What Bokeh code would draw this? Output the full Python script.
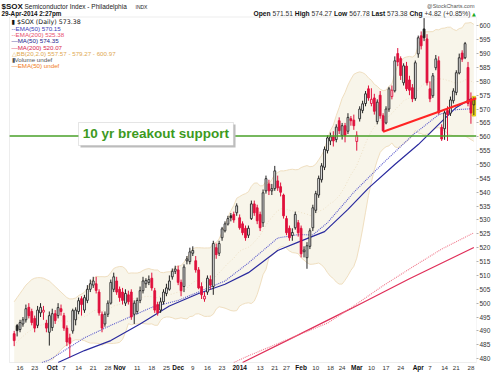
import pandas as pd
from bokeh.plotting import figure
from bokeh.models import ColumnDataSource, Label, BoxAnnotation, FixedTicker, Range1d
from bokeh.embed import file_html
from bokeh.resources import INLINE
from bokeh.core.properties import value

# ---------------- data ----------------
HOLIDAYS = ["2013-11-28", "2013-12-25", "2014-01-01", "2014-01-20", "2014-02-17", "2014-04-18"]
dates = pd.bdate_range("2013-09-12", "2014-04-29", freq="C", holidays=HOLIDAYS)

PRIOR_CLOSE = 488.5

open_ = [489.0, 491.9, 490.5, 492.5, 494.0, 498.5, 497.0, 494.5, 492.0, 496.5,
         497.0, 492.8, 489.5, 491.2, 496.2, 495.5, 498.0, 495.5, 491.0, 487.5,
         490.0, 494.0, 497.0, 501.6, 497.5, 501.0, 505.0, 506.5, 507.0, 504.0,
         496.0, 492.5, 496.0, 500.0, 505.0, 508.0, 505.0, 504.0, 500.0, 503.0,
         504.0, 496.0, 497.0, 501.0, 504.5, 507.0, 507.5, 509.0, 504.5, 499.5,
         497.5, 500.5, 503.5, 505.0, 509.5, 511.5, 512.0, 507.5, 506.0, 515.5,
         515.0, 518.0, 515.3, 512.0, 506.0, 501.5, 504.0, 508.5, 506.0, 520.0,
         518.0, 523.6, 526.1, 528.5, 531.5, 532.0, 532.6, 530.8, 528.6, 527.0,
         524.5, 530.5, 535.8, 534.4, 532.0, 529.0, 540.5, 543.0, 540.5, 541.3,
         544.1, 542.0, 539.0, 530.5, 527.0, 524.4, 527.2, 529.0, 527.0, 518.8,
         516.4, 520.5, 527.2, 533.5, 539.0, 544.5, 549.0, 555.0, 558.5, 560.0,
         559.0, 565.8, 560.5, 564.0, 562.0, 566.5, 566.0, 558.3, 566.5, 569.5,
         572.0, 577.3, 572.0, 574.0, 565.5, 575.0, 567.6, 565.0, 570.0, 574.5,
         576.6, 590.0, 588.2, 579.5, 585.5, 580.5, 577.7, 573.8, 589.9, 596.4,
         598.9, 595.3, 577.3, 574.8, 584.9, 587.4, 563.4, 562.9, 569.5, 568.5,
         573.0, 576.0, 583.0, 590.2, 588.5, 585.0, 573.5, 571.51]
high = [490.0, 492.5, 494.0, 495.0, 499.5, 500.0, 498.0, 495.5, 499.0, 500.0,
        499.0, 494.0, 497.0, 498.0, 497.5, 500.0, 499.5, 496.5, 492.0, 489.0,
        498.0, 498.5, 502.0, 502.5, 503.0, 506.5, 508.5, 509.5, 509.5, 505.0,
        497.0, 497.0, 501.0, 508.5, 511.0, 509.5, 506.0, 505.5, 505.0, 504.5,
        505.0, 501.0, 502.0, 506.0, 509.5, 509.0, 510.0, 511.0, 505.5, 500.5,
        502.0, 505.0, 507.0, 510.0, 512.5, 513.5, 513.5, 508.5, 514.0, 517.0,
        520.0, 520.5, 517.0, 513.0, 507.5, 504.0, 510.0, 510.0, 522.5, 521.5,
        522.5, 527.5, 529.5, 531.5, 532.5, 533.0, 536.0, 532.0, 529.5, 528.0,
        528.0, 537.0, 537.0, 535.5, 533.0, 541.0, 546.0, 544.5, 543.0, 549.5,
        546.0, 543.5, 539.5, 531.5, 528.0, 527.0, 533.0, 530.0, 528.0, 520.5,
        522.0, 527.0, 535.5, 540.5, 546.0, 550.5, 556.5, 560.5, 561.5, 562.0,
        564.5, 567.0, 565.0, 565.0, 568.5, 567.5, 568.0, 562.0, 571.0, 573.0,
        576.5, 578.5, 577.5, 575.5, 573.5, 576.5, 568.5, 571.0, 578.0, 578.5,
        589.0, 592.0, 589.0, 586.5, 587.0, 582.0, 579.0, 587.5, 596.5, 598.0,
        602.8, 597.0, 580.0, 583.0, 589.5, 589.0, 564.5, 569.5, 571.0, 574.5,
        577.5, 584.0, 590.0, 591.2, 594.2, 587.0, 576.0, 574.27]
low = [484.5, 488.0, 489.5, 491.5, 493.0, 494.5, 492.0, 489.5, 491.0, 495.0,
       494.0, 489.5, 484.7, 490.0, 492.5, 494.5, 495.5, 490.0, 484.5, 480.4,
       489.0, 492.0, 496.0, 495.5, 496.5, 500.0, 504.0, 505.5, 503.5, 495.5,
       489.5, 491.5, 495.0, 499.5, 504.0, 503.0, 500.5, 499.5, 499.0, 499.5,
       494.0, 492.5, 496.0, 500.0, 503.5, 505.5, 506.5, 504.5, 496.5, 495.5,
       496.5, 499.5, 502.5, 504.5, 508.5, 510.5, 506.5, 502.5, 504.0, 514.0,
       514.0, 517.0, 511.0, 505.0, 501.5, 500.5, 503.0, 505.0, 503.0, 516.0,
       517.0, 522.5, 525.5, 528.0, 529.5, 529.0, 531.5, 526.5, 524.5, 522.5,
       523.5, 530.0, 531.5, 528.5, 526.0, 527.5, 539.5, 539.0, 539.0, 540.5,
       540.5, 538.5, 530.5, 524.5, 522.5, 522.5, 526.5, 524.0, 516.5, 516.5,
       512.4, 519.5, 526.0, 532.5, 538.0, 543.5, 548.0, 554.0, 557.0, 556.5,
       558.0, 561.0, 559.0, 558.0, 561.0, 564.0, 562.5, 555.0, 565.5, 568.5,
       571.0, 573.0, 571.0, 568.0, 564.5, 566.5, 561.8, 564.5, 569.0, 573.5,
       576.0, 585.5, 580.5, 578.5, 576.5, 575.0, 572.5, 573.0, 588.5, 591.5,
       594.5, 578.5, 572.5, 574.0, 584.0, 568.0, 558.5, 558.9, 558.5, 567.5,
       572.0, 575.0, 582.5, 587.0, 588.0, 571.0, 564.7, 567.78]
close = [486.5, 490.1, 493.0, 494.0, 498.0, 495.5, 493.0, 491.0, 497.5, 498.5,
         497.2, 491.0, 495.5, 496.2, 493.7, 498.4, 497.0, 491.0, 486.0, 485.5,
         497.3, 497.5, 500.9, 499.5, 502.0, 505.0, 507.0, 508.0, 504.6, 496.5,
         491.0, 496.0, 500.0, 507.5, 509.5, 504.0, 502.0, 501.0, 503.5, 500.5,
         495.0, 500.0, 501.0, 504.5, 508.0, 508.2, 508.5, 505.5, 497.5, 496.5,
         500.5, 504.0, 505.5, 508.0, 511.5, 512.3, 507.5, 504.5, 513.0, 515.7,
         518.5, 519.0, 512.0, 505.5, 503.0, 502.5, 509.0, 506.5, 521.5, 517.5,
         521.5, 526.8, 528.6, 530.5, 530.8, 530.0, 535.1, 527.2, 525.4, 523.6,
         527.0, 535.8, 532.6, 529.7, 527.2, 539.8, 544.9, 540.5, 541.3, 547.7,
         541.6, 540.0, 531.5, 525.4, 523.6, 525.5, 532.0, 525.4, 517.8, 518.9,
         520.7, 526.1, 534.4, 539.5, 545.0, 549.5, 555.5, 559.6, 560.0, 558.5,
         563.5, 562.2, 564.0, 560.5, 567.0, 565.8, 564.0, 560.5, 570.0, 571.9,
         575.5, 574.0, 573.5, 569.2, 572.5, 567.6, 562.2, 570.0, 577.3, 576.8,
         587.4, 587.0, 582.1, 585.6, 577.3, 576.8, 573.7, 586.7, 595.7, 592.8,
         595.7, 579.5, 573.7, 582.0, 588.1, 568.7, 559.2, 568.6, 568.0, 573.3,
         576.5, 583.1, 588.5, 588.0, 593.6, 572.0, 568.56, 573.38]

# Bollinger band (20, 2.0) before the first 20 closes of the window
bb_head_upper = [500.5, 502.0, 503.5, 505.0, 506.5, 507.5, 508.5, 509.0, 509.2, 509.2,
                 509.0, 508.5, 508.0, 507.0, 506.0, 505.0, 504.0, 503.0, 502.0]
bb_head_mid = [485.0, 486.0, 487.0, 488.0, 489.0, 489.8, 490.5, 491.0, 491.6, 492.0,
               492.4, 492.8, 493.0, 493.2, 493.4, 493.5, 493.6, 493.6, 493.5]
bb_head_lower = [469.5, 470.0, 470.5, 471.0, 471.5, 472.0, 472.5, 473.0, 474.0, 474.8,
                 475.8, 477.0, 478.0, 479.4, 480.8, 482.0, 483.2, 484.2, 485.0]

# moving averages (trading-day index, value), from where they enter the panel
ma50_i = [15, 24, 33, 43, 53, 63, 72, 80, 90, 97, 106, 114, 121, 130, 138, 145, 151, 157]
ma50_v = [478.6, 482.9, 486.5, 492.5, 499.0, 503.5, 506.8, 511.0, 519.0, 522.0,
          525.8, 533.8, 541.5, 550.0, 557.2, 564.5, 570.6, 574.35]
ema50_i = [9.5, 12, 24, 33, 47, 56, 64, 72, 80, 90, 97, 102, 107, 116, 126, 136, 145, 151, 157]
ema50_v = [478.6, 479.5, 487.5, 492.0, 498.5, 501.0, 504.5, 508.0, 514.5, 523.5, 524.7,
           524.6, 529.0, 540.0, 550.5, 560.5, 568.0, 569.8, 570.15]
ema200_i = [75, 80, 97, 107, 116, 126, 136, 146, 157]
ema200_v = [478.6, 481.0, 488.5, 492.8, 499.0, 506.3, 513.0, 519.5, 525.38]
ma200_i = [78, 95, 115, 135, 157]
ma200_v = [478.6, 487.5, 498.0, 508.8, 520.07]

support_level = 560.3
trend_i = [126, 157.9]
trend_v = [561.8, 573.9]

tick_dates = ["2013-09-16", "2013-09-23", "2013-10-01", "2013-10-07", "2013-10-14", "2013-10-21",
              "2013-10-28", "2013-11-01", "2013-11-11", "2013-11-18", "2013-11-25", "2013-12-02",
              "2013-12-09", "2013-12-16", "2013-12-23", "2014-01-02", "2014-01-13", "2014-01-21",
              "2014-01-27", "2014-02-03", "2014-02-10", "2014-02-18", "2014-02-24", "2014-03-03",
              "2014-03-10", "2014-03-17", "2014-03-24", "2014-04-01", "2014-04-07", "2014-04-14",
              "2014-04-21", "2014-04-28"]
tick_text = ["16", "23", "Oct", "7", "14", "21", "28", "Nov", "11", "18", "25", "Dec", "9", "16",
             "23", "2014", "13", "21", "27", "Feb", "10", "18", "24", "Mar", "10", "17", "24",
             "Apr", "7", "14", "21", "28"]
MONTHS = {"Oct", "Nov", "Dec", "2014", "Feb", "Mar", "Apr"}

# ---------------- geometry ----------------
W, H = 500, 372
BR = 24                                  # right border (price axis)
CL, CR, CT, CB = 9, 476, 16.5, 362       # price panel inside the figure (px)
PX0, PX1 = -1.6, 157.9                   # panel x extent (trading-day index)
PY0, PY1 = 478.6, 603.2                  # panel y extent (price)
UX = (PX1 - PX0) / (CR - CL)
UY = (PY1 - PY0) / (CB - CT)
XR = Range1d(PX0 - CL * UX, PX1 + (W - BR - CR) * UX)
YR = Range1d(PY0 - (H - CB) * UY, PY1 + CT * UY)


def gx(px):
    return XR.start + px * UX


def gy(py):
    return YR.end - py * UY


FONT = "Liberation Sans"
RED = "#e0103c"
BLK = "#222222"

p = figure(width=W, height=H, x_range=XR, y_range=YR,
           output_backend="svg", toolbar_location=None, y_axis_location="right",
           x_axis_location=None, min_border_left=0, min_border_right=BR,
           min_border_top=0, min_border_bottom=0,
           background_fill_color="white", border_fill_color="white",
           outline_line_color=None)
p.grid.visible = False

ax = p.yaxis[0]
ax.ticker = FixedTicker(ticks=list(range(480, 601, 5)))
ax.major_label_text_font = FONT
ax.major_label_text_font_size = "6.5px"
ax.major_label_text_color = "#333333"
ax.major_tick_out = 2
ax.major_tick_in = 0
ax.minor_tick_line_color = None
ax.major_tick_line_color = "#b0b0b0"
ax.axis_line_color = None
ax.major_label_standoff = 1

idx = list(range(len(dates)))
cs = pd.Series(close)
roll_mid = cs.rolling(20).mean()
roll_sd = cs.rolling(20).std(ddof=0)
bb_mid = bb_head_mid + list(roll_mid[19:])
bb_up = bb_head_upper + list((roll_mid + 2 * roll_sd)[19:])
bb_lo = bb_head_lower + list((roll_mid - 2 * roll_sd)[19:])


def clip(v):
    return min(max(v, PY0), PY1)


bb_up_c = [clip(v) for v in bb_up]
bb_lo_c = [clip(v) for v in bb_lo]
lo_vis = [i for i, v in enumerate(bb_lo) if v >= PY0]

p.varea(x=idx, y1=bb_lo_c, y2=bb_up_c, fill_color="#f8f5ea")
p.line(idx, bb_up_c, line_color="#f0dfc0", line_width=1)
p.line(lo_vis, [bb_lo[i] for i in lo_vis], line_color="#f0dfc0", line_width=1)
p.line(idx, bb_mid, line_color="#eadbbd", line_width=0.8, line_dash="1 2")

p.line(ma200_i, ma200_v, line_color="#e0305a", line_width=1.3)
p.line(ema200_i, ema200_v, line_color="#f07a8c", line_width=1.1, line_dash="1 1")
p.line(ma50_i, ma50_v, line_color="#2a2a9e", line_width=1.2)
p.line(ema50_i, ema50_v, line_color="#5a5acc", line_width=1.1, line_dash="1 1")

prev = [PRIOR_CLOSE] + close[:-1]
stroke = [BLK if c >= pc else RED for c, pc in zip(close, prev)]
fill = [s if c < o else "white" for s, c, o in zip(stroke, close, open_)]
fill[-1] = "#fff200"
btop = [max(o, c) + (0.25 if abs(o - c) < 0.4 else 0) for o, c in zip(open_, close)]
bbot = [min(o, c) - (0.25 if abs(o - c) < 0.4 else 0) for o, c in zip(open_, close)]
src = ColumnDataSource(dict(x=idx, o=open_, h=high, l=low, c=close, s=stroke, f=fill, t=btop, b=bbot))

p.vbar(x=[idx[-1]], width=1.2, top=[high[-1] + 0.3], bottom=[low[-1] - 0.3],
       fill_color="#ffee22", line_color="#d8c400", line_width=0.8)
p.segment(x0="x", y0="l", x1="x", y1="h", line_color="s", line_width=1, source=src)
p.vbar(x="x", width=0.62, top="t", bottom="b", fill_color="f", line_color="s",
       line_width=0.9, source=src)

p.line(trend_i, trend_v, line_color="#ff2424", line_width=2)
p.line([PX0, PX1], [support_level, support_level], line_color="#48a128", line_width=1.6)

# panel border
p.add_layout(BoxAnnotation(left=PX0, right=PX1, bottom=PY0, top=PY1, fill_color=None,
                           line_color="#c4c4c4", line_width=1))

# annotation box
p.add_layout(BoxAnnotation(left=22.65, right=75.6, top=564.45, bottom=556.15,
                           fill_color="#bdbdbd", fill_alpha=1, line_color=None))
p.add_layout(BoxAnnotation(left=21.97, right=74.9, top=565.15, bottom=556.85,
                           fill_color="white", fill_alpha=1, line_color="#a8a8a8", line_width=1))
p.add_layout(Label(x=23.4, y=561.1, text="10 yr breakout support", text_font=FONT,
                   text_font_style="bold", text_font_size="13.5px", text_color="#3d9a1e",
                   text_baseline="middle"))


def txt(px, py, t, size, color="#111111", bold=False, align="left", font=FONT):
    p.text(x=[gx(px)], y=[gy(py)], text=[t], text_font=value(font), text_font_size=value(size),
           text_color=color, text_font_style="bold" if bold else "normal",
           text_align=align, text_baseline="middle")


# legend (inside the panel, top-left)
leg = [(21, "▮ $SOX (Daily) 573.38", "#111111", "DejaVu Sans", "6.3px"),
       (28, "--EMA(50) 570.15", "#3a3ab8", FONT, "6.2px"),
       (34, "--EMA(200) 525.38", "#e8506e", FONT, "6.2px"),
       (40, "—MA(50) 574.35", "#1c1c8c", FONT, "6.2px"),
       (47, "—MA(200) 520.07", "#d81e50", FONT, "6.2px"),
       (53, "△BB(20,2.0) 557.57 - 579.27 - 600.97", "#e0a850", FONT, "6.2px"),
       (59, "▮Volume undef", "#555555", FONT, "6.2px"),
       (65, "—EMA(50) undef", "#f07c22", FONT, "6.2px")]
for py, t, c, f, s in leg:
    txt(11, py, t, s, color=c, font=f)

# header
txt(1, 6, "$SOX", "8px", bold=True)
txt(24, 6, "Semiconductor Index - Philadelphia", "6.5px", color="#222222")
txt(135, 6.5, "INDX", "5px", color="#222222")
txt(1, 13, "29-Apr-2014 2:27pm", "6.3px", bold=True)
txt(474, 5, "@StockCharts.com", "5.5px", color="#555555", align="right")
pieces = [(253, "Open", True), (272, "571.51", False), (294.3, "High", True),
          (311.1, "574.27", False), (333.4, "Low", True), (348.7, "567.78", False),
          (371, "Last", True), (386.6, "573.38", False), (409, "Chg", True),
          (423.9, "+4.82 (+0.85%)", False)]
for px, t, b in pieces:
    txt(px, 13, t, "6.7px", color="#111111" if b else "#333333", bold=b)
txt(471.5, 13, "▲", "5px", color="#22aa22", font="DejaVu Sans")

# date labels under the panel
tpos = [dates.get_loc(pd.Timestamp(d)) for d in tick_dates]
reg_x = [a for a, t in zip(tpos, tick_text) if t not in MONTHS]
reg_t = [t for t in tick_text if t not in MONTHS]
bld_x = [a for a, t in zip(tpos, tick_text) if t in MONTHS]
bld_t = [t for t in tick_text if t in MONTHS]
ylab = gy(367)
p.text(x=reg_x, y=[ylab] * len(reg_x), text=reg_t, text_font=value(FONT),
       text_font_size=value("6.2px"), text_color="#333333", text_align="center",
       text_baseline="middle")
p.text(x=bld_x, y=[ylab] * len(bld_x), text=bld_t, text_font=value(FONT),
       text_font_size=value("6.5px"), text_font_style="bold", text_color="#111111",
       text_align="center", text_baseline="middle")

open("out.html", "w").write(file_html(p, INLINE))
